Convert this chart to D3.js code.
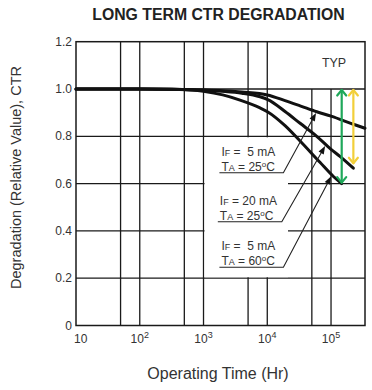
<!DOCTYPE html>
<html><head><meta charset="utf-8">
<script src="https://cdn.jsdelivr.net/npm/d3@7"></script>
<style>
body{margin:0;background:#fff}
svg{display:block}
text{font-family:Arial,"Liberation Sans",sans-serif;white-space:pre}
</style>
</head><body>
<svg id="chart" width="372" height="390"></svg>
<script>
// ---------- data ----------
const chartTitle = "LONG TERM CTR DEGRADATION";
const yTitle = "Degradation (Relative Value), CTR";
const xTitle = "Operating Time (Hr)";
const typLabel = "TYP";

const yTicks = [0, 0.2, 0.4, 0.6, 0.8, 1.0, 1.2];
const yTickLabels = ["0", "0.2", "0.4", "0.6", "0.8", "1.0", "1.2"];
const xTicks = [10, 100, 1000, 10000, 100000];
const xTickBase = ["10", "10", "10", "10", "10"];
const xTickExp = ["", "2", "3", "4", "5"];
const xGridFull = [50, 100, 500, 1000, 5000, 10000];
const xGridLower = [50000, 100000];
const yGrid = [0.2, 0.4, 0.6, 0.8, 1.0];
const xMax = 341000;

// IF = 5 mA, TA = 25 C
const timeA = [10, 100, 1000, 2000, 4000, 10000, 19000, 32700, 59700, 100000, 224000, 341000];
const ctrA  = [1.0, 1.0, 0.996, 0.993, 0.987, 0.975, 0.951, 0.929, 0.904, 0.885, 0.851, 0.834];
// IF = 20 mA, TA = 25 C
const timeB = [10, 100, 1000, 2000, 4000, 7700, 10200, 19000, 32700, 59700, 100000, 138000, 224000];
const ctrB  = [1.0, 1.0, 0.995, 0.99, 0.982, 0.967, 0.955, 0.905, 0.855, 0.80, 0.745, 0.715, 0.665];
// IF = 5 mA, TA = 60 C
const timeC = [10, 100, 500, 1000, 2000, 3740, 7700, 10200, 19000, 32700, 67000, 109000, 147000];
const ctrC  = [1.0, 1.0, 0.998, 0.99, 0.975, 0.953, 0.92, 0.903, 0.845, 0.78, 0.69, 0.63, 0.60];

// annotations
const noteIF = ["5", "20", "5"];
const noteTA = ["25", "25", "60"];
const noteTargetTime = [59700, 83000, 103000];
const noteAnchorTime = [17900, 16900, 17900];
const noteAnchorCtr = [0.646, 0.439, 0.246];

// ---------- drawing ----------
const svg = d3.select("#chart");
const L = 76, R = 365, T = 41.7, B = 325.5;
const x = d3.scaleLog().domain([10, xMax]).range([L, R]);
const y = d3.scaleLinear().domain([0, 1.2]).range([B, T]);

const gridCol = "#1a1a1a";
// title
svg.append("text").attr("x", 218.5).attr("y", 20).attr("text-anchor", "middle")
  .attr("font-size", 15.8).attr("font-weight", "bold").attr("fill", "#222").text(chartTitle);

// horizontal grid
svg.append("g").selectAll("line").data(yGrid).join("line")
  .attr("x1", L).attr("x2", R).attr("y1", d => y(d)).attr("y2", d => y(d))
  .attr("stroke", gridCol).attr("stroke-width", 1.3);
// vertical grid full
svg.append("g").selectAll("line").data(xGridFull).join("line")
  .attr("x1", d => x(d)).attr("x2", d => x(d)).attr("y1", T).attr("y2", B)
  .attr("stroke", gridCol).attr("stroke-width", 1.3);
svg.append("g").selectAll("line").data(xGridLower).join("line")
  .attr("x1", d => x(d)).attr("x2", d => x(d)).attr("y1", y(1.0)).attr("y2", B)
  .attr("stroke", gridCol).attr("stroke-width", 1.3);

// white label area
svg.append("rect").attr("x", x(1000) + 1).attr("y", y(0.8) + 1)
  .attr("width", 288 - x(1000) - 1).attr("height", y(0.2) - y(0.8) - 2).attr("fill", "#fff");

// frame
svg.append("rect").attr("x", L).attr("y", T).attr("width", R - L).attr("height", B - T)
  .attr("fill", "none").attr("stroke", gridCol).attr("stroke-width", 1.5);

// y tick labels
svg.append("g").selectAll("text").data(yTicks).join("text")
  .attr("x", L - 4).attr("y", d => y(d) + 4).attr("text-anchor", "end")
  .attr("font-size", 12).attr("fill", "#333").text((d, i) => yTickLabels[i]);

// x tick labels
const xt = svg.append("g").selectAll("text").data(xTicks).join("text")
  .attr("x", (d, i) => i === 0 ? x(d) - 2 : x(d)).attr("y", 343)
  .attr("text-anchor", (d, i) => i === 0 ? "start" : "middle")
  .attr("font-size", 12).attr("fill", "#333");
xt.append("tspan").text((d, i) => xTickBase[i]);
xt.append("tspan").attr("font-size", 9).attr("dy", -5).text((d, i) => xTickExp[i]);

// axis titles
svg.append("text").attr("transform", "translate(21,177.5) rotate(-90)").attr("text-anchor", "middle")
  .attr("font-size", 14.5).attr("fill", "#333").text(yTitle);
svg.append("text").attr("x", 218).attr("y", 379).attr("text-anchor", "middle")
  .attr("font-size", 16).attr("fill", "#333").text(xTitle);

// TYP
svg.append("text").attr("x", x(1e5) + 3).attr("y", 67).attr("text-anchor", "middle")
  .attr("font-size", 12.5).attr("fill", "#333").text(typLabel);

// curves
const line = d3.line().x(d => x(d[0])).y(d => y(d[1])).curve(d3.curveMonotoneX);
const series = [d3.zip(timeA, ctrA), d3.zip(timeB, ctrB), d3.zip(timeC, ctrC)];
const paths = svg.append("g").selectAll("path").data(series).join("path")
  .attr("d", line).attr("fill", "none").attr("stroke", "#111").attr("stroke-width", 3)
  .attr("stroke-linecap", "round").nodes();

function pointAtX(node, px) {
  let lo = 0, hi = node.getTotalLength();
  for (let k = 0; k < 40; k++) {
    const mid = (lo + hi) / 2;
    if (node.getPointAtLength(mid).x < px) lo = mid; else hi = mid;
  }
  return node.getPointAtLength(lo);
}

// double-headed arrows
function dblArrow(px, y1, y2, col) {
  const g = svg.append("g").attr("stroke", col).attr("stroke-width", 2.2).attr("fill", "none")
    .attr("stroke-linecap", "round").attr("stroke-linejoin", "round");
  g.append("line").attr("x1", px).attr("x2", px).attr("y1", y1 + 1).attr("y2", y2 - 1);
  g.append("path").attr("d", `M${px - 4.5},${y1 + 6.5} L${px},${y1 + 1} L${px + 4.5},${y1 + 6.5}`);
  g.append("path").attr("d", `M${px - 4.5},${y2 - 6.5} L${px},${y2 - 1} L${px + 4.5},${y2 - 6.5}`);
}
dblArrow(x(timeC[timeC.length - 1]), y(1.0), y(ctrC[ctrC.length - 1]), "#1fa85a");
dblArrow(x(timeB[timeB.length - 1]), y(1.0), y(ctrB[ctrB.length - 1]) - 4, "#f2cf3a");

// annotation labels
const notes = svg.append("g");
noteIF.forEach((v, i) => {
  const ax = x(noteAnchorTime[i]), ay = y(noteAnchorCtr[i]);
  const tp = pointAtX(paths[i], x(noteTargetTime[i]));
  const g = notes.append("g");
  const tx = ax - 62;
  const t1 = g.append("text").attr("x", tx).attr("y", ay - 17).attr("font-size", 12).attr("fill", "#333");
  t1.append("tspan").text("I");
  t1.append("tspan").attr("font-size", 9).text("F");
  t1.append("tspan").text(" = " + (v.length === 1 ? " " : "") + v + " mA");
  const t2 = g.append("text").attr("x", tx).attr("y", ay - 2).attr("font-size", 12).attr("fill", "#333");
  t2.append("tspan").text("T");
  t2.append("tspan").attr("font-size", 9).text("A");
  t2.append("tspan").text(" = " + noteTA[i]);
  t2.append("tspan").attr("font-size", 8).attr("dy", -4).text("o");
  t2.append("tspan").attr("dy", 4).text("C");
  // leader
  const ang = Math.atan2(tp.y - ay, tp.x - ax);
  const tipX = tp.x - Math.cos(ang) * 1.5, tipY = tp.y - Math.sin(ang) * 1.5;
  g.append("path").attr("d", `M${ax - 64},${ay} L${ax},${ay} L${tipX - Math.cos(ang) * 6},${tipY - Math.sin(ang) * 6}`)
    .attr("fill", "none").attr("stroke", "#222").attr("stroke-width", 1.1);
  const hl = 8, hw = 3;
  const bx = tipX - Math.cos(ang) * hl, by = tipY - Math.sin(ang) * hl;
  const nx = -Math.sin(ang) * hw, ny = Math.cos(ang) * hw;
  g.append("path").attr("d", `M${tipX},${tipY} L${bx + nx},${by + ny} L${bx - nx},${by - ny} Z`).attr("fill", "#111");
});
</script>
</body></html>
